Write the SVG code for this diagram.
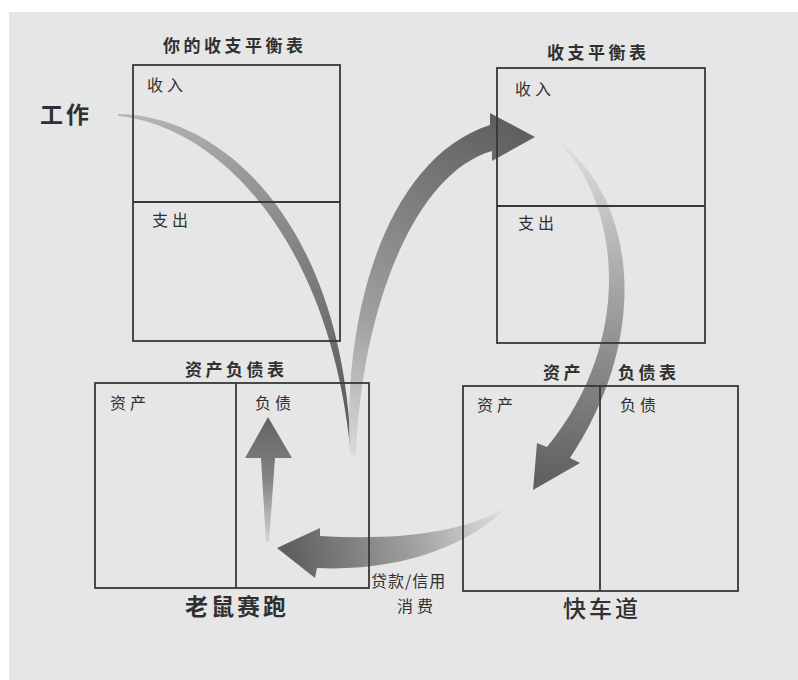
<svg xmlns="http://www.w3.org/2000/svg" width="798" height="680" viewBox="0 0 798 680">
<style>
  .box{fill:none;stroke:#383838;stroke-width:1.8}
  .t{font-family:"Noto Sans CJK SC","Noto Sans",sans-serif;fill:#303030;font-size:16px;letter-spacing:4px}
  .title{font-size:17px;letter-spacing:3.5px;font-weight:bold}
  .big{font-size:23px;font-weight:bold;letter-spacing:3px}
</style>
<defs>
  <linearGradient id="g1" gradientUnits="userSpaceOnUse" x1="118" y1="114" x2="350" y2="455">
    <stop offset="0" stop-color="#b8b8b8"/><stop offset="0.5" stop-color="#858585"/><stop offset="1" stop-color="#555"/>
  </linearGradient>
  <linearGradient id="g2" gradientUnits="userSpaceOnUse" x1="352" y1="455" x2="520" y2="130">
    <stop offset="0" stop-color="#dadada"/><stop offset="0.35" stop-color="#a0a0a0"/><stop offset="1" stop-color="#5f5f5f"/>
  </linearGradient>
  <linearGradient id="g3" gradientUnits="userSpaceOnUse" x1="560" y1="143" x2="545" y2="480">
    <stop offset="0" stop-color="#dedede"/><stop offset="0.45" stop-color="#a2a2a2"/><stop offset="1" stop-color="#606060"/>
  </linearGradient>
  <linearGradient id="g4" gradientUnits="userSpaceOnUse" x1="507" y1="507" x2="290" y2="550">
    <stop offset="0" stop-color="#e2e2e2"/><stop offset="0.45" stop-color="#a0a0a0"/><stop offset="1" stop-color="#606060"/>
  </linearGradient>
  <linearGradient id="g5" gradientUnits="userSpaceOnUse" x1="268" y1="417" x2="268" y2="545">
    <stop offset="0" stop-color="#626262"/><stop offset="0.5" stop-color="#858585"/><stop offset="1" stop-color="#d8d8d8"/>
  </linearGradient>
</defs>
<rect x="0" y="0" width="798" height="680" fill="#ffffff"/>
<rect x="9" y="12" width="789" height="668" fill="#e6e6e6"/>

<g id="connectors">
  <path id="arrow-work" d="M118,114 C225,115 345,228 351,455 C330,235 215,125 118,116 Z" fill="url(#g1)"/>
  <path id="arrow-rise" d="M350,455 C342,310 388,158 490,125 L490,113 L535,137 L492,161 L492,151 C418,172 362,300 356,455 Z" fill="url(#g2)"/>
  <path id="arrow-descend" d="M560,143 C632,195 655,330 570,458 L580,463 L533,490 L537,443 L547,447 C635,340 620,205 560,143 Z" fill="url(#g3)"/>
  <path id="arrow-loan" d="M507,507 C460,535 390,540 320,536 L320,528 L277,548 L315,578 L317,568 C400,572 470,545 507,507 Z" fill="url(#g4)"/>
  <path id="arrow-liability" d="M268,417 L292,458 L275,458 L269,542 L266,542 L261,458 L245,458 Z" fill="url(#g5)"/>
</g>

<text class="t big" x="40" y="123">工作</text>

<g id="income-statement-left">
  <text class="t title" x="163" y="52">你的收支平衡表</text>
  <rect class="box" x="133" y="65" width="207" height="276"/>
  <line class="box" x1="133" y1="202" x2="340" y2="202"/>
  <text class="t" x="147" y="91">收入</text>
  <text class="t" x="152" y="226">支出</text>
</g>

<g id="income-statement-right">
  <text class="t title" x="547" y="59">收支平衡表</text>
  <rect class="box" x="497" y="68" width="208" height="275"/>
  <line class="box" x1="497" y1="206" x2="705" y2="206"/>
  <text class="t" x="515" y="95">收入</text>
  <text class="t" x="518" y="229">支出</text>
</g>

<g id="balance-sheet-left">
  <text class="t title" x="185" y="376">资产负债表</text>
  <rect class="box" x="95" y="383" width="274" height="205"/>
  <line class="box" x1="236" y1="383" x2="236" y2="588"/>
  <text class="t" x="110" y="409">资产</text>
  <text class="t" x="255" y="409">负债</text>
  <text class="t big" x="185" y="615">老鼠赛跑</text>
</g>

<g id="balance-sheet-right">
  <text class="t title" x="543" y="379">资产</text>
  <text class="t title" x="618" y="379">负债表</text>
  <rect class="box" x="463" y="386" width="275" height="205"/>
  <line class="box" x1="600" y1="386" x2="600" y2="591"/>
  <text class="t" x="477" y="411">资产</text>
  <text class="t" x="620" y="411">负债</text>
  <text class="t big" x="563" y="617" style="font-weight:500">快车道</text>
</g>

<g id="loan-label">
  <text class="t" x="371" y="587" style="letter-spacing:1px">贷款/信用</text>
  <text class="t" x="397" y="612">消费</text>
</g>
</svg>
